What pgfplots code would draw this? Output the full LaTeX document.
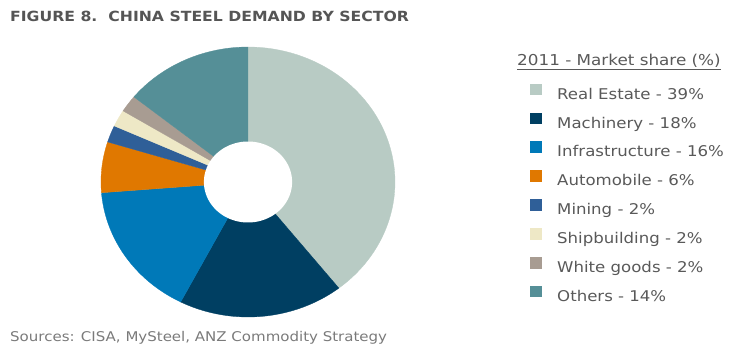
\documentclass[border=0pt]{standalone}
\usepackage{fontspec}
\setmainfont{DejaVu Sans}[FakeStretch=1.12]
\usepackage{pgfplots}
\pgfplotsset{compat=1.18}
\usepackage{pgfplotstable}
\definecolor{cRE}{HTML}{B8CBC4}
\definecolor{cMA}{HTML}{003F62}
\definecolor{cIN}{HTML}{0079B8}
\definecolor{cAU}{HTML}{E07800}
\definecolor{cMI}{HTML}{2F5F98}
\definecolor{cSH}{HTML}{EEE8C6}
\definecolor{cWG}{HTML}{A89C92}
\definecolor{cOT}{HTML}{558F97}
\definecolor{ttl}{HTML}{555555}
\definecolor{lgt}{HTML}{595959}
\definecolor{src}{HTML}{7A7A7A}
% Market share (%), 2011; cumulative start/end used for the sectors (total 99)
\pgfplotstableread{
sector share start end
RealEstate 39 0 39
Machinery 18 39 57
Infrastructure 16 57 73
Automobile 6 73 79
Mining 2 79 81
Shipbuilding 2 81 83
WhiteGoods 2 83 85
Others 14 85 99
}\sharetable
\begin{document}
\begin{tikzpicture}
\path[use as bounding box] (0,0) rectangle (732bp,358bp);
\node[anchor=base west, font=\bfseries\fontsize{14bp}{16bp}\selectfont, text=ttl, inner sep=0pt] at (10bp,336bp) {FIGURE 8.\ \ CHINA STEEL DEMAND BY SECTOR};
\node[anchor=base west, font=\fontsize{13.4bp}{16bp}\selectfont, text=src, inner sep=0pt] at (10bp,17bp) {Sources: CISA, MySteel, ANZ Commodity Strategy};
\node[anchor=base west, font=\fontsize{15bp}{18bp}\selectfont, text=lgt, inner sep=0pt] at (517bp,292bp) {\underline{2011 - Market share (\%)}};
\begin{axis}[
  at={(101bp,41bp)}, anchor=south west,
  width=294bp, height=270bp, scale only axis,
  xmin=-1, xmax=1, ymin=-1, ymax=1,
  hide axis, clip=false,
  legend cell align=left,
  legend image code/.code={\fill[#1,draw=none] (0bp,0bp) rectangle (12bp,11.5bp);},
  legend style={at={(1.4592,0.865)}, anchor=north west, draw=none, fill=none,
    inner sep=0pt, row sep=10.4bp, column sep=15bp,
    font=\fontsize{14.8bp}{18bp}\selectfont, text=lgt,
    nodes={inner sep=0pt, text height=11bp, text depth=3bp}},
]
\addplot[fill=cRE, draw=cRE, line width=0.3pt, domain=0:39, samples=90, variable=\t] ({cos(90-\t*360/99)},{sin(90-\t*360/99)}) -- (axis cs:0,0) -- cycle;
\addlegendentry{Real Estate - 39\%}
\addplot[fill=cMA, draw=cMA, line width=0.3pt, domain=39:57, samples=50, variable=\t] ({cos(90-\t*360/99)},{sin(90-\t*360/99)}) -- (axis cs:0,0) -- cycle;
\addlegendentry{Machinery - 18\%}
\addplot[fill=cIN, draw=cIN, line width=0.3pt, domain=57:73, samples=50, variable=\t] ({cos(90-\t*360/99)},{sin(90-\t*360/99)}) -- (axis cs:0,0) -- cycle;
\addlegendentry{Infrastructure - 16\%}
\addplot[fill=cAU, draw=cAU, line width=0.3pt, domain=73:79, samples=20, variable=\t] ({cos(90-\t*360/99)},{sin(90-\t*360/99)}) -- (axis cs:0,0) -- cycle;
\addlegendentry{Automobile - 6\%}
\addplot[fill=cMI, draw=cMI, line width=0.3pt, domain=79:81, samples=10, variable=\t] ({cos(90-\t*360/99)},{sin(90-\t*360/99)}) -- (axis cs:0,0) -- cycle;
\addlegendentry{Mining - 2\%}
\addplot[fill=cSH, draw=cSH, line width=0.3pt, domain=81:83, samples=10, variable=\t] ({cos(90-\t*360/99)},{sin(90-\t*360/99)}) -- (axis cs:0,0) -- cycle;
\addlegendentry{Shipbuilding - 2\%}
\addplot[fill=cWG, draw=cWG, line width=0.3pt, domain=83:85, samples=10, variable=\t] ({cos(90-\t*360/99)},{sin(90-\t*360/99)}) -- (axis cs:0,0) -- cycle;
\addlegendentry{White goods - 2\%}
\addplot[fill=cOT, draw=cOT, line width=0.3pt, domain=85:99, samples=50, variable=\t] ({cos(90-\t*360/99)},{sin(90-\t*360/99)}) -- (axis cs:0,0) -- cycle;
\addlegendentry{Others - 14\%}
\addplot[fill=white, draw=none, domain=0:360, samples=120, forget plot] ({0.3*cos(x)},{0.3*sin(x)});
\end{axis}
\end{tikzpicture}
\end{document}
